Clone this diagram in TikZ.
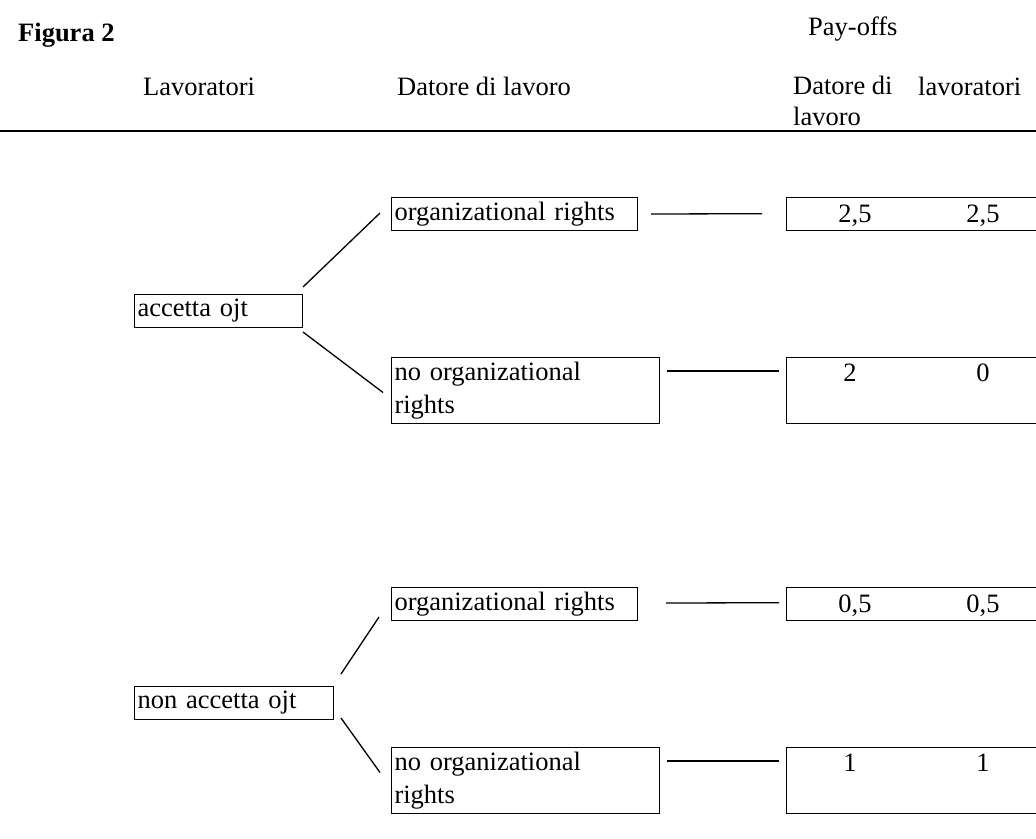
\documentclass[tikz,border=0pt]{standalone}
\usepackage{fontspec}
\setmainfont{Liberation Serif}
\usetikzlibrary{calc, positioning}

\begin{document}
\begin{tikzpicture}[
    x=1pt, y=-1pt,
    every node/.style={font=\fontsize{26.5}{33}\selectfont},
    head/.style={anchor=base west, inner sep=0},
    choice/.style={draw, line width=1pt, anchor=north west, inner xsep=3pt, inner ysep=0pt, minimum height=33, align=left},
    twoline/.style={choice, text width=262, minimum height=66},
    payoff/.style={anchor=north west, inner sep=0, minimum width=250, minimum height=33},
    num/.style={anchor=base, inner sep=0},
    branch/.style={line width=1.3pt}
]
    \useasboundingbox (0,0) rectangle (1036,838);

    % Header
    \node[head, font=\fontsize{26.5}{33}\selectfont\bfseries] (fig) at (18,41) {Figura 2};
    \node[head] (payoffs) at (808,35) {Pay-offs};
    \node[head] (lav) at (143,95) {Lavoratori};
    \node[head] (dat) at (397,95) {Datore di lavoro};
    \node[head, align=left] (datP) at (793,125) {Datore di\\[-2pt]lavoro};
    \node[head] (lavP) at (918,95) {lavoratori};
    \coordinate (ruleL) at (0,131);
    \coordinate (ruleR) at (1036,131);
    \draw[line width=2pt] (ruleL) -- (ruleR);

    % Lavoratori moves
    \node[choice, text width=162] (acc) at (134,294) {accetta ojt};
    \node[choice, text width=193] (nacc) at (134,686) {non accetta ojt};

    % Datore di lavoro moves
    \node[choice, text width=240] (orgA) at (391,197) {organizational rights};
    \node[twoline] (noA) at (391,357) {no organizational\\rights};
    \node[choice, text width=240] (orgB) at (391,587) {organizational rights};
    \node[twoline] (noB) at (391,747) {no organizational\\rights};

    % Pay-off boxes (open on the right)
    \node[payoff] (payA) at (786,197) {};
    \node[payoff, minimum height=66] (payB) at (786,357) {};
    \node[payoff] (payC) at (786,587) {};
    \node[payoff, minimum height=66] (payD) at (786,747) {};
    \foreach \p in {payA, payB, payC, payD} {
        \draw[line width=1pt] (\p.north east) -- (\p.north west) -- (\p.south west) -- (\p.south east);
    }

    % Pay-off values
    \node[num] (pA1) at ($(payA.north west)+(69,25)$) {2,5};
    \node[num] (pA2) at ($(payA.north west)+(197,25)$) {2,5};
    \node[num] (pB1) at ($(payB.north west)+(64,24)$) {2};
    \node[num] (pB2) at ($(payB.north west)+(197,24)$) {0};
    \node[num] (pC1) at ($(payC.north west)+(69,25)$) {0,5};
    \node[num] (pC2) at ($(payC.north west)+(197,25)$) {0,5};
    \node[num] (pD1) at ($(payD.north west)+(64,24)$) {1};
    \node[num] (pD2) at ($(payD.north west)+(197,24)$) {1};

    % Branches
    \draw[branch] ($(acc.north east)+(0,-7)$) -- ($(orgA.west)+(-11,-1)$);
    \draw[branch] ($(acc.south east)+(0,4)$) -- ($(noA.west)+(-8,2)$);
    \draw[branch] ($(nacc.north east)+(7,-12)$) -- ($(orgB.west)+(-12,13)$);
    \draw[branch] ($(nacc.south east)+(7,-2)$) -- ($(noB.west)+(-11,-8)$);

    % Links to pay-offs
    \draw[branch] ($(orgA.east)+(13,0)$) -- ($(payA.west)+(-24,0)$);
    \draw[branch] ($(noA.north east)+(7,14)$) -- ($(payB.north west)+(-7,14)$);
    \draw[branch] ($(orgB.east)+(28,-1)$) -- ($(payC.west)+(-7,-1)$);
    \draw[branch] ($(noB.north east)+(7,14)$) -- ($(payD.north west)+(-7,14)$);
\end{tikzpicture}
\end{document}
